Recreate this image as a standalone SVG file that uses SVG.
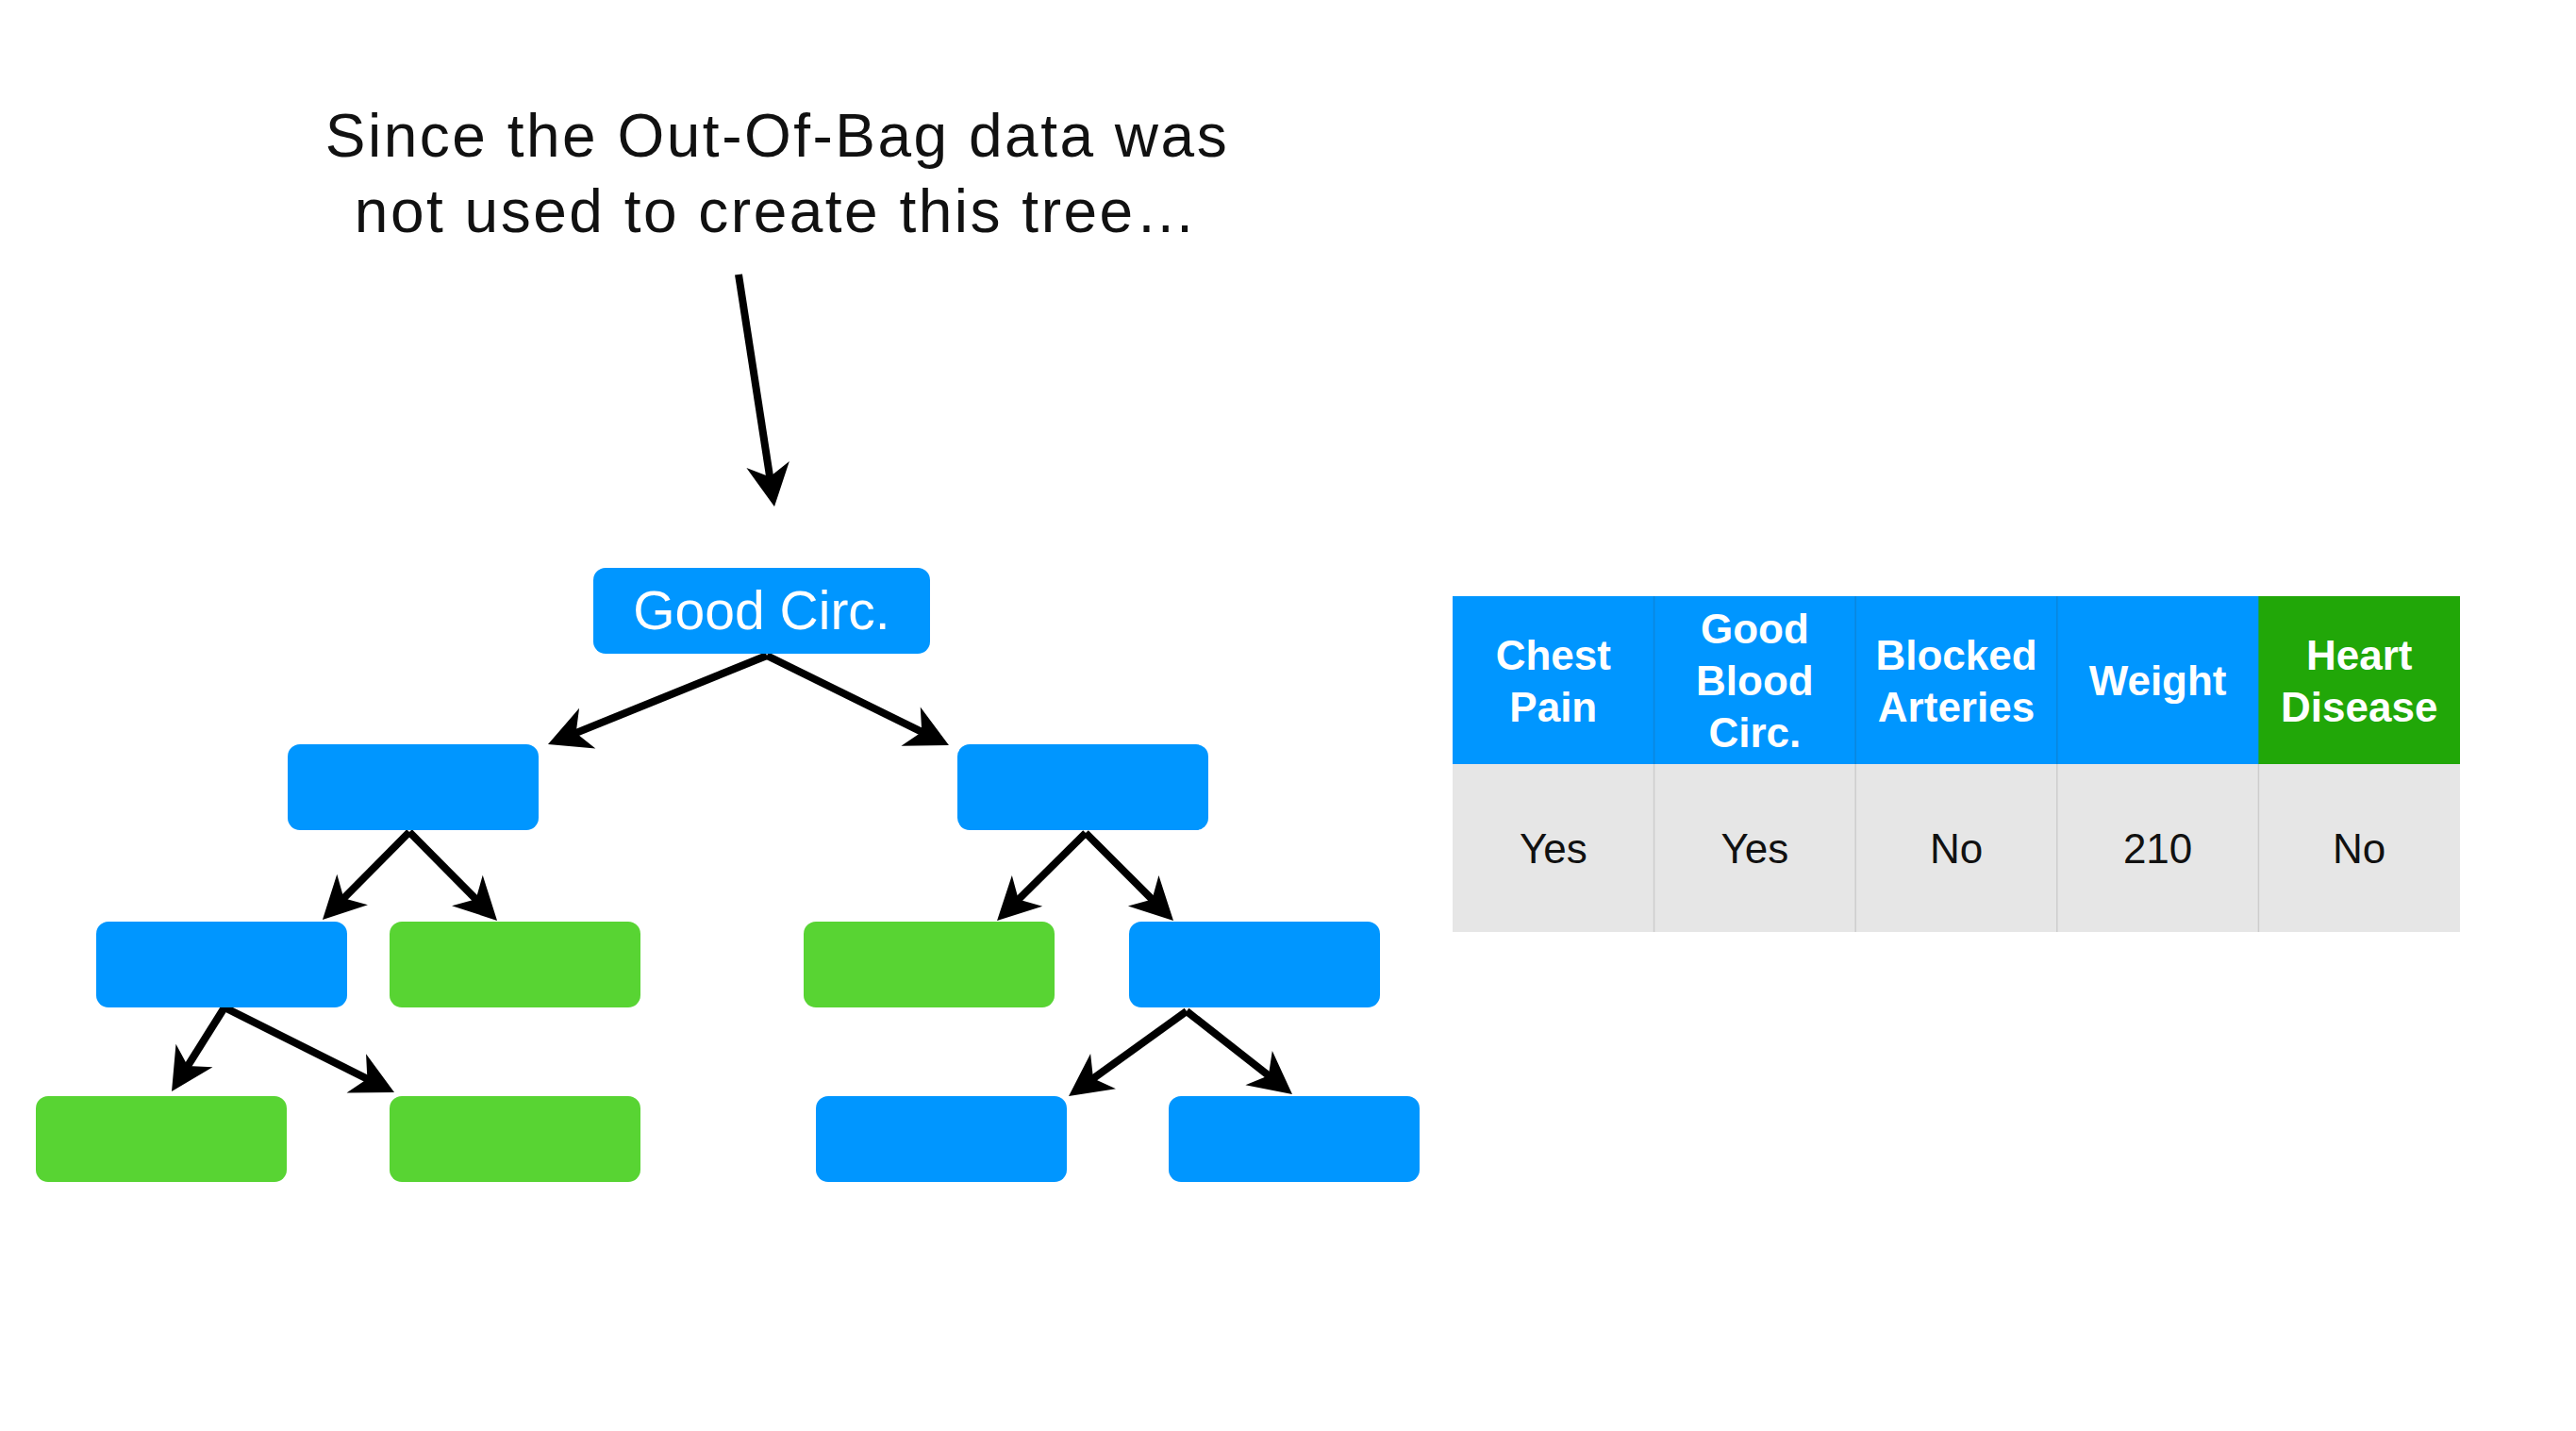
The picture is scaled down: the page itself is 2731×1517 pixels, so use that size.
<svg xmlns="http://www.w3.org/2000/svg" width="2731" height="1517" viewBox="0 0 2731 1517">
  <style>
    .blue { fill: #0096FF; }
    .green { fill: #58D433; }
    .cap { font-family: "Liberation Sans", Arial, Helvetica, sans-serif; font-size: 64px; fill: #111111; text-anchor: middle; letter-spacing: 2.5px; }
    .nodeText { font-family: "Liberation Sans", Arial, Helvetica, sans-serif; font-size: 57px; fill: #FFFFFF; text-anchor: middle; }
    .hdr { font-family: "Liberation Sans", Arial, Helvetica, sans-serif; font-size: 44px; font-weight: bold; fill: #FFFFFF; text-anchor: middle; }
    .cell { font-family: "Liberation Sans", Arial, Helvetica, sans-serif; font-size: 44px; fill: #111111; text-anchor: middle; }
    .conn { stroke: #000000; stroke-width: 8; fill: none; marker-end: url(#ah); }
  </style>
  <defs>
    <marker id="ah" markerUnits="userSpaceOnUse" orient="auto" overflow="visible" refX="0" refY="0" markerWidth="1" markerHeight="1">
      <path d="M15,0 L-30,-23 L-17,0 L-30,23 Z" fill="#000000"/>
    </marker>
  </defs>
  <rect width="2731" height="1517" fill="#FFFFFF"/>

  <g id="caption">
    <text class="cap" x="824" y="166">Since the Out-Of-Bag data was</text>
    <text class="cap" x="823" y="246">not used to create this tree…</text>
  </g>

  <g id="connectors">
    <line class="conn" x1="783" y1="291" x2="818.7" y2="522.2"/>
    <line class="conn" x1="813" y1="695" x2="594.9" y2="783.4"/>
    <line class="conn" x1="813" y1="695" x2="992.5" y2="783.4"/>
    <line class="conn" x1="434" y1="882" x2="352.5" y2="964.3"/>
    <line class="conn" x1="434" y1="882" x2="516.5" y2="965.3"/>
    <line class="conn" x1="1151" y1="883" x2="1067.7" y2="965.5"/>
    <line class="conn" x1="1151" y1="883" x2="1233.4" y2="965.4"/>
    <line class="conn" x1="238" y1="1068" x2="190" y2="1144.3"/>
    <line class="conn" x1="238" y1="1068" x2="404.6" y2="1151.3"/>
    <line class="conn" x1="1258" y1="1072" x2="1145.2" y2="1153.2"/>
    <line class="conn" x1="1258" y1="1072" x2="1358.2" y2="1150.7"/>
  </g>

  <g id="root">
    <rect class="blue" x="629" y="602" width="357" height="91" rx="13"/>
    <text class="nodeText" x="807.5" y="667">Good Circ.</text>
  </g>
  <g id="n1L"><rect class="blue" x="305" y="789" width="266" height="91" rx="13"/></g>
  <g id="n1R"><rect class="blue" x="1015" y="789" width="266" height="91" rx="13"/></g>
  <g id="n2a"><rect class="blue" x="102" y="977" width="266" height="91" rx="13"/></g>
  <g id="n2b"><rect class="green" x="413" y="977" width="266" height="91" rx="13"/></g>
  <g id="n2c"><rect class="green" x="852" y="977" width="266" height="91" rx="13"/></g>
  <g id="n2d"><rect class="blue" x="1197" y="977" width="266" height="91" rx="13"/></g>
  <g id="n3a"><rect class="green" x="38" y="1162" width="266" height="91" rx="13"/></g>
  <g id="n3b"><rect class="green" x="413" y="1162" width="266" height="91" rx="13"/></g>
  <g id="n3c"><rect class="blue" x="865" y="1162" width="266" height="91" rx="13"/></g>
  <g id="n3d"><rect class="blue" x="1239" y="1162" width="266" height="91" rx="13"/></g>

  <g id="table">
    <rect x="1540" y="632" width="855" height="178" fill="#0096FF"/>
    <rect x="2394.4" y="632" width="213.6" height="178" fill="#21A708"/>
    <rect x="1540" y="810" width="1068" height="178" fill="#E6E6E6"/>
    <g stroke="#0A86DD" stroke-width="1.5">
      <line x1="1753.6" y1="632" x2="1753.6" y2="810"/>
      <line x1="1967.2" y1="632" x2="1967.2" y2="810"/>
      <line x1="2180.8" y1="632" x2="2180.8" y2="810"/>
    </g>
    <g stroke="#CDCDCD" stroke-width="1.5">
      <line x1="1753.6" y1="810" x2="1753.6" y2="988"/>
      <line x1="1967.2" y1="810" x2="1967.2" y2="988"/>
      <line x1="2180.8" y1="810" x2="2180.8" y2="988"/>
      <line x1="2394.4" y1="810" x2="2394.4" y2="988"/>
    </g>
    <text class="hdr" x="1646.8" y="710">Chest</text>
    <text class="hdr" x="1646.8" y="765">Pain</text>
    <text class="hdr" x="1860.4" y="682">Good</text>
    <text class="hdr" x="1860.4" y="737">Blood</text>
    <text class="hdr" x="1860.4" y="792">Circ.</text>
    <text class="hdr" x="2074" y="710">Blocked</text>
    <text class="hdr" x="2074" y="765">Arteries</text>
    <text class="hdr" x="2287.6" y="737">Weight</text>
    <text class="hdr" x="2501.2" y="710">Heart</text>
    <text class="hdr" x="2501.2" y="765">Disease</text>
    <text class="cell" x="1646.8" y="915">Yes</text>
    <text class="cell" x="1860.4" y="915">Yes</text>
    <text class="cell" x="2074" y="915">No</text>
    <text class="cell" x="2287.6" y="915">210</text>
    <text class="cell" x="2501.2" y="915">No</text>
  </g>
</svg>
